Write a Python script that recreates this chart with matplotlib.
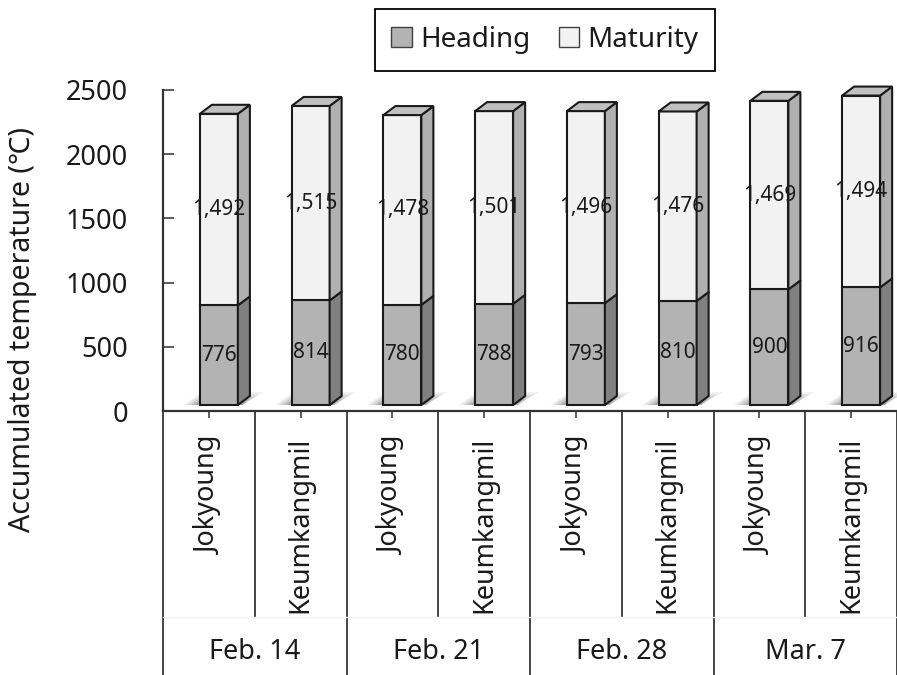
import matplotlib
matplotlib.use('Agg')
import matplotlib.pyplot as plt
from matplotlib.patches import Polygon, Patch
from matplotlib.transforms import ScaledTranslation, blended_transform_factory

plt.rcParams['font.family'] = ['Noto Sans', 'Noto Sans CJK KR', 'DejaVu Sans']
plt.rcParams['text.color'] = '#1a1a1a'

# data
groups = ['Feb. 14', 'Feb. 21', 'Feb. 28', 'Mar. 7']
cultivars = ['Jokyoung', 'Keumkangmil']
heading = [776, 814, 780, 788, 793, 810, 900, 916]
maturity = [1492, 1515, 1478, 1501, 1496, 1476, 1469, 1494]

# colours
head_front, head_side = '#b3b3b3', '#808080'
mat_front, mat_side, mat_top = '#f2f2f2', '#b0b0b0', '#c0c0c0'
edge = '#1a1a1a'

fig = plt.figure(figsize=(8.97, 6.75), dpi=100)
ax = fig.add_axes([163/897, 264/675, 734/897, 321/675])

n = len(heading)
xs = list(range(n))
w = 0.414
dx, dy = 0.131, 70   # depth of the 3d box in data units

# front faces shifted a bit right / up (3d floor)
off = ax.transData + ScaledTranslation(0.10, 0.06, fig.dpi_scale_trans)

# floor shadows, layered for a soft edge
for x in xs:
    xl = x - w/2
    xr = x + w/2
    for k, a in enumerate([0.10, 0.13, 0.16, 0.20, 0.24]):
        s = 1 - k*0.17
        pts = [(xl - 0.18*s, 0), (xr + 0.05, 0), (xr + 0.28*s, 100*s), (xl + 0.02, 100*s)]
        ax.add_patch(Polygon(pts, closed=True, facecolor='#707070', edgecolor='none',
                             alpha=a, transform=off, clip_on=False, zorder=1))

b1 = ax.bar(xs, heading, w, color=head_front, edgecolor=edge, linewidth=1.5,
            transform=off, clip_on=False, zorder=3, label='Heading')
b2 = ax.bar(xs, maturity, w, bottom=heading, color=mat_front, edgecolor=edge, linewidth=1.5,
            transform=off, clip_on=False, zorder=3, label='Maturity')

# side and top faces
for x, h, m in zip(xs, heading, maturity):
    xl = x - w/2
    xr = x + w/2
    for y0, y1, c in [(0, h, head_side), (h, h + m, mat_side)]:
        side = [(xr, y0), (xr + dx, y0 + dy), (xr + dx, y1 + dy), (xr, y1)]
        ax.add_patch(Polygon(side, closed=True, facecolor=c, edgecolor=edge, linewidth=1.5,
                             transform=off, clip_on=False, zorder=3))
    t = h + m
    top = [(xl, t), (xl + dx, t + dy), (xr + dx, t + dy), (xr, t)]
    ax.add_patch(Polygon(top, closed=True, facecolor=mat_top, edgecolor=edge, linewidth=1.5,
                         transform=off, clip_on=False, zorder=3))

    ax.text(x, h/2, f'{h:,}', ha='center', va='center', fontsize=15,
            transform=off, zorder=5)
    ax.text(x, h + m/2, f'{m:,}', ha='center', va='center', fontsize=15,
            transform=off, zorder=5)

ax.set_xlim(-0.5, n - 0.5)
ax.set_ylim(0, 2500)
ax.set_yticks(range(0, 2501, 500))
ax.tick_params(axis='y', direction='in', length=8, width=1.2, color='#404040',
               pad=25, labelsize=19.5, labelcolor='#1a1a1a')
ax.set_xticks(xs)
ax.set_xticklabels([])
ax.tick_params(axis='x', direction='out', length=5, width=1.2, color='#404040')

for sp in ['top', 'right']:
    ax.spines[sp].set_visible(False)
for sp in ['left', 'bottom']:
    ax.spines[sp].set_color('#333333')
    ax.spines[sp].set_linewidth(1.6)

# category table under the axis
bt = blended_transform_factory(ax.transData, ax.transAxes)
for i in range(n + 1):
    xv = i - 0.5
    if i % 2 == 0:
        y_end = -0.822
    else:
        y_end = -0.642
    ax.plot([xv, xv], [0, y_end], color='#444444', lw=1.4, transform=bt, clip_on=False)
ax.plot([-0.5, n - 0.5], [-0.642, -0.642], color='#f4f4f4', lw=1, transform=bt, clip_on=False)

for x in xs:
    ax.text(x, -0.081, cultivars[x % 2], rotation=90, ha='center', va='top',
            fontsize=19.5, transform=bt)
for g, name in enumerate(groups):
    ax.text(2*g + 0.5, -0.751, name, ha='center', va='center', fontsize=19.5, transform=bt)

fig.text(23/897, 1 - 330/675, 'Accumulated temperature (℃)', rotation=90,
         ha='center', va='center', fontsize=20.5)

handles = [Patch(facecolor=head_front, edgecolor='#404040', label='Heading'),
           Patch(facecolor=mat_front, edgecolor='#404040', label='Maturity')]
leg = fig.legend(handles=handles, loc='center', bbox_to_anchor=(545/897, 1 - 40/675),
                 ncol=2, fontsize=20, fancybox=False, framealpha=1, edgecolor='black',
                 handlelength=0.75, handleheight=0.75, handletextpad=0.3,
                 columnspacing=1.0, borderpad=0.6)
leg.get_frame().set_linewidth(1.3)

fig.savefig('out.png', dpi=100)
